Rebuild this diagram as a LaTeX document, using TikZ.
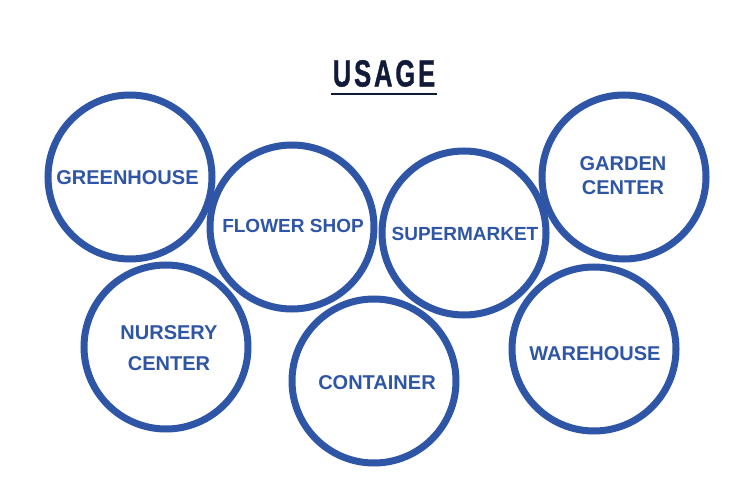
\documentclass[tikz,border=0pt]{standalone}
\usepackage{fontspec}
\setmainfont{Liberation Sans}
\definecolor{ringblue}{HTML}{2F55A6}
\definecolor{navy}{HTML}{121A3A}
\begin{document}
\begin{tikzpicture}[x=1pt,y=-1pt,
  ring/.style={circle,draw=ringblue,line width=7pt,minimum size=164pt,inner sep=0pt},
  lbl/.style={text=ringblue,font=\bfseries\fontsize{20}{24}\selectfont,align=center,inner sep=0pt},
  lblsm/.style={lbl,font=\bfseries\fontsize{19}{24}\selectfont}]
\useasboundingbox (0,0) rectangle (750,492);
\fill[white] (0,0) rectangle (750,492);
% title
\node[text=navy,inner sep=0pt,font=\bfseries\fontsize{37.7}{40}\selectfont] (title) at (384,73.5)
  {\scalebox{0.68}[1]{\addfontfeature{LetterSpace=11,FakeBold=1.2}USAGE}};
\coordinate (ulA) at (331,94);
\coordinate (ulB) at (437,94);
\draw[navy,line width=2pt] (ulA) -- (ulB);
% rings
\node[ring] (gh) at (130,177) {};
\node[ring] (fs) at (292,227) {};
\node[ring] (sm) at (464,233) {};
\node[ring] (gc) at (624,177) {};
\node[ring] (nc) at (166,347) {};
\node[ring] (ct) at (374,381) {};
\node[ring] (wh) at (594,349) {};
% labels
\node[lbl] (tgh) at (127.5,177.5) {GREENHOUSE};
\node[lblsm] (tfs) at (293,226) {FLOWER SHOP};
\node[lblsm] (tsm) at (465,234) {SUPERMARKET};
\node[lbl] (tgc) at (623,175.5) {GARDEN\\CENTER};
\node[lbl,font=\bfseries\fontsize{20}{31}\selectfont] (tnc) at (169,348.5) {NURSERY\\CENTER};
\node[lbl] (tct) at (377,383) {CONTAINER};
\node[lbl] (twh) at (595,353.5) {WAREHOUSE};
\end{tikzpicture}
\end{document}
